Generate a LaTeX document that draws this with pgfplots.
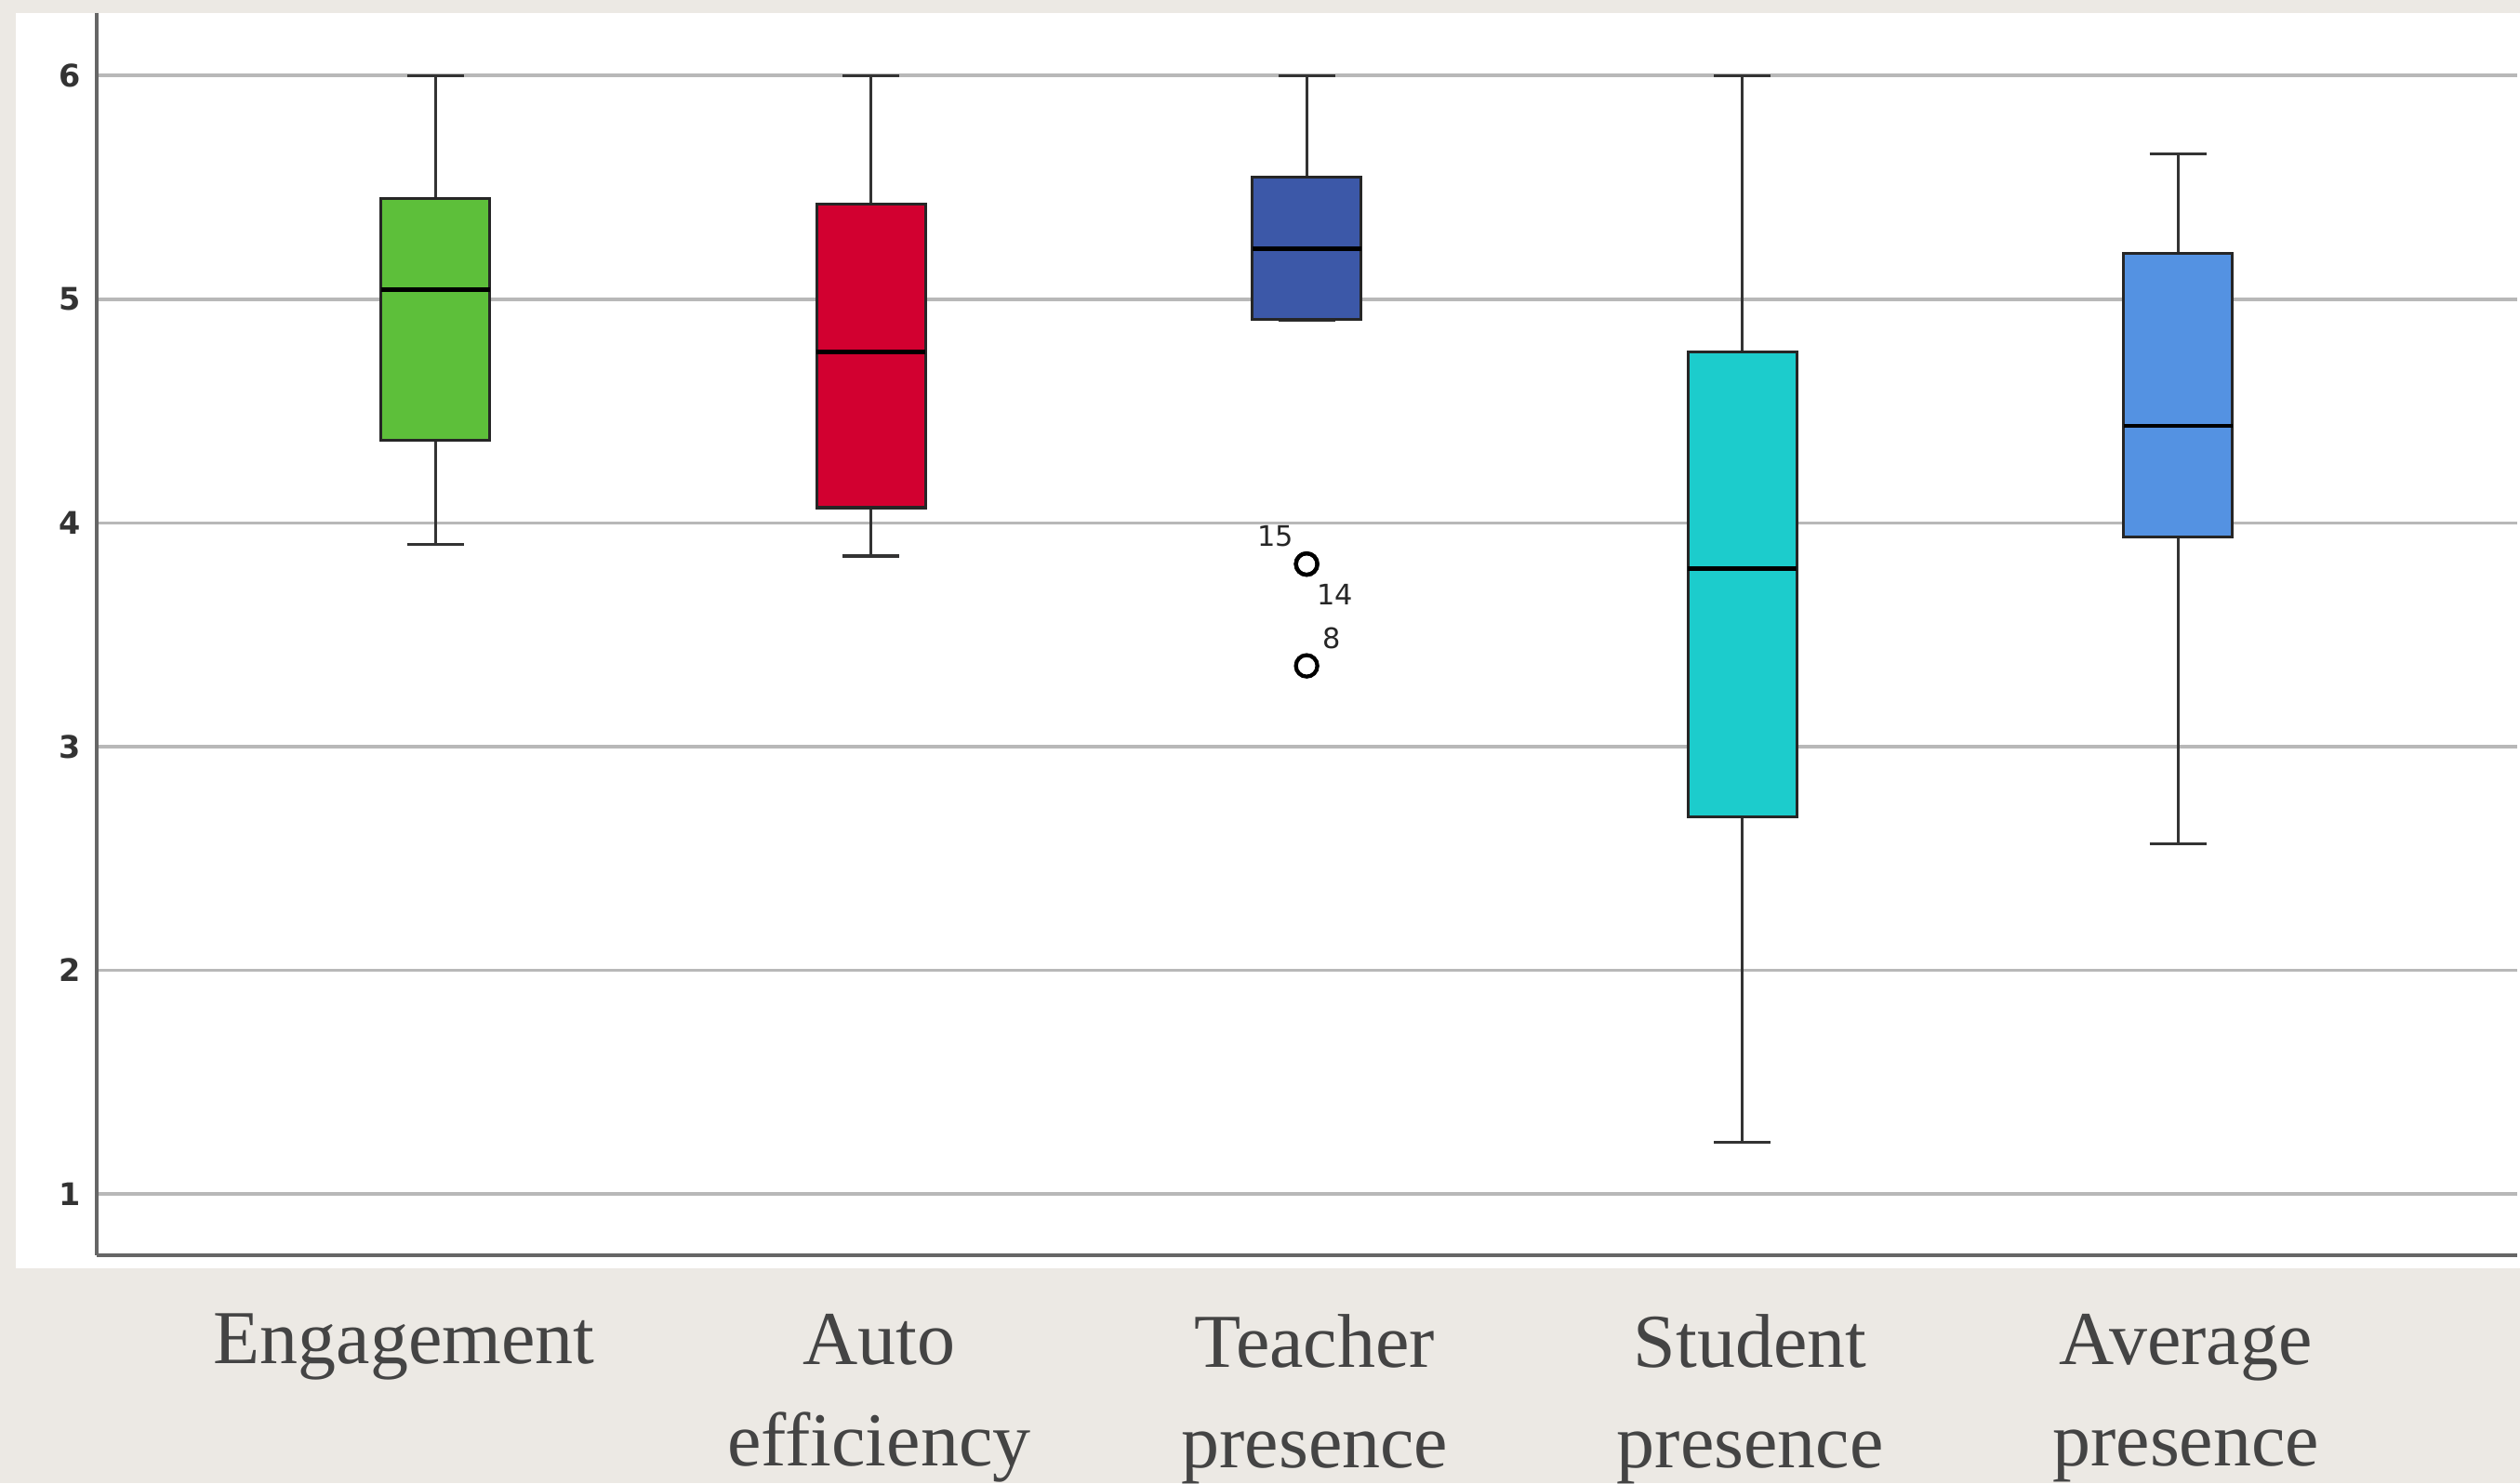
\documentclass[border=0pt]{standalone}
\usepackage{pgfplots}
\pgfplotsset{compat=1.18}
\usepgfplotslibrary{statistics}
\usepackage{fontspec}
\setmainfont{Liberation Serif}
\newfontfamily\tickfont{DejaVu Sans}
\definecolor{bgbeige}{HTML}{ECE9E4}
\definecolor{cgreen}{HTML}{5DBF3A}
\definecolor{cred}{HTML}{D20030}
\definecolor{cnavy}{HTML}{3C58A8}
\definecolor{ccyan}{HTML}{1CCCCC}
\definecolor{cblue}{HTML}{5492E2}
\definecolor{labgray}{HTML}{444444}
\begin{document}
\begin{tikzpicture}
\useasboundingbox (0,0) rectangle (156.8mm,92.3mm);
\fill[bgbeige] (0,0) rectangle (156.8mm,92.3mm);
\fill[white] (1mm,13.4mm) rectangle (156.8mm,91.5mm);
\begin{axis}[
  at={(6mm,14.2mm)}, anchor=south west,
  scale only axis, width=150.6mm, height=77.3mm,
  xmin=0.222, xmax=5.778, ymin=0.727, ymax=6.28,
  axis lines*=left,
  axis line style={draw=black!60, line width=0.6pt},
  ymajorgrids, grid style={draw=black!28, line width=0.6pt},
  ytick={1,2,3,4,5,6},
  xtick={1,2,3,4,5},
  xticklabels={{Engagement\kern4.9mm}, {Auto\\[0.6mm]efficiency}, {Teacher\\[0.6mm]presence}, {Student\\[0.6mm]presence}, {Average\\[0.6mm]presence}},
  major tick length=0pt,
  /pgf/number format/assume math mode=true,
  yticklabel style={font=\tickfont\bfseries\fontsize{5.5}{6}\selectfont, text=black!80, inner sep=0pt, xshift=-0.9mm},
  xticklabel style={font=\fontsize{13.5}{16.2}\selectfont, text=labgray, align=center, anchor=north, inner sep=0pt, yshift=-3.6mm, xshift=0.5mm},
  boxplot/draw direction=y,
  boxplot/box extend=0.25,
  boxplot/whisker extend=0.13,
  boxplot/every median/.style={draw=black, line width=0.8pt},
  boxplot/every whisker/.style={draw=black!80, line width=0.5pt},
  boxplot/every box/.style={draw=black!85, line width=0.5pt},
  clip=false,
]
\addplot[fill=cgreen, draw=black!85, boxplot prepared={draw position=1, lower whisker=3.902, lower quartile=4.369, median=5.042, upper quartile=5.451, upper whisker=6.0}] coordinates {};
\addplot[fill=cred, draw=black!85, boxplot prepared={draw position=2, lower whisker=3.852, lower quartile=4.068, median=4.764, upper quartile=5.426, upper whisker=6.0}] coordinates {};
\addplot[fill=cnavy, draw=black!85, mark=o, mark size=1.9pt, mark options={draw=black, fill=white, line width=0.7pt}, boxplot prepared={draw position=3, lower whisker=4.905, lower quartile=4.911, median=5.225, upper quartile=5.545, upper whisker=6.0}] coordinates {(3,3.816) (3,3.816) (3,3.361)};
\addplot[fill=ccyan, draw=black!85, boxplot prepared={draw position=4, lower whisker=1.230, lower quartile=2.688, median=3.795, upper quartile=4.765, upper whisker=6.0}] coordinates {};
\addplot[fill=cblue, draw=black!85, boxplot prepared={draw position=5, lower whisker=2.566, lower quartile=3.938, median=4.434, upper quartile=5.204, upper whisker=5.648}] coordinates {};
\node[font=\tickfont\fontsize{5}{6}\selectfont, text=black!85, inner sep=0pt] at (axis cs:2.929,3.940) {15};
\node[font=\tickfont\fontsize{5}{6}\selectfont, text=black!85, inner sep=0pt] at (axis cs:3.065,3.680) {14};
\node[font=\tickfont\fontsize{5}{6}\selectfont, text=black!85, inner sep=0pt] at (axis cs:3.057,3.483) {8};
\end{axis}
\end{tikzpicture}
\end{document}
